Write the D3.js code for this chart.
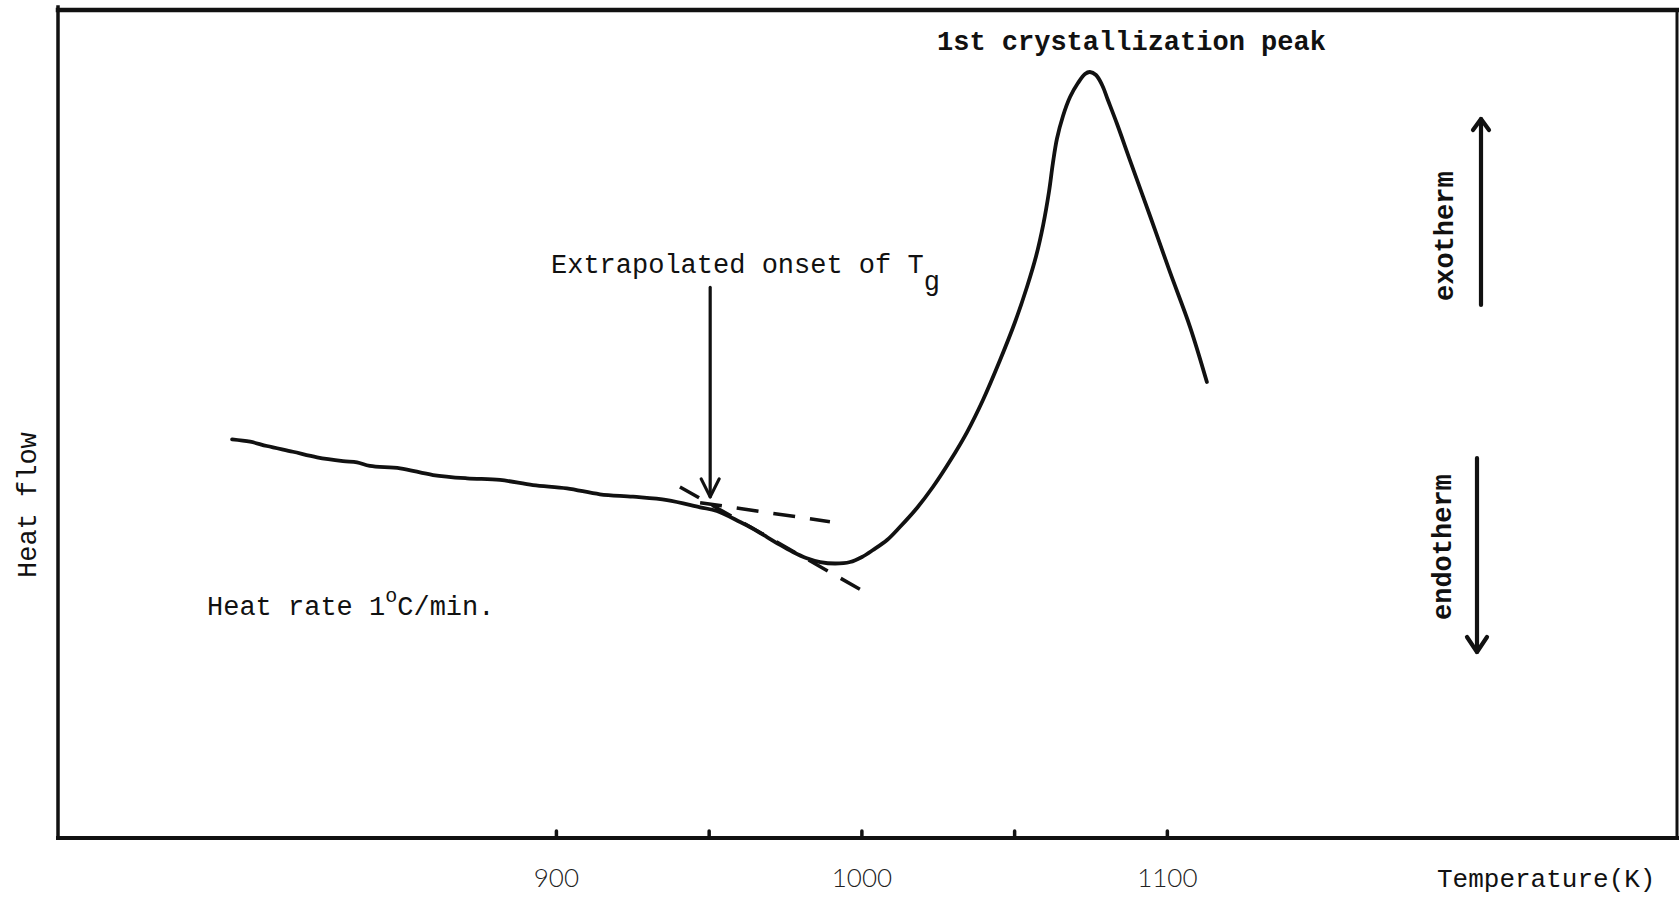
<!DOCTYPE html>
<html><head><meta charset="utf-8">
<script src="https://cdn.jsdelivr.net/npm/d3@7"></script>
<style>
html,body{margin:0;padding:0;background:#fff;}
svg{display:block;}
.mono{font-family:"Liberation Mono","Courier New",monospace;fill:#111;}
.tick text{font-family:Lato,"Open Sans",sans-serif;font-weight:300;}
</style></head><body>
<svg id="chart" width="1679" height="898"></svg>
<script>
// DSC heating trace: temperature (K) against heat flow (arbitrary units)
const temperature = [
  794.0, 799.9, 805.4, 813.9, 821.8, 830.3, 834.9, 839.1, 849.0, 859.8,
  870.9, 881.7, 892.5, 903.6, 914.4, 925.2, 936.4, 947.2, 952.7, 960.3,
  963.5, 969.1, 973.4, 977.6, 981.9, 986.5, 991.4, 996.3, 1000.2, 1003.8,
  1008.4, 1012.6, 1018.2, 1023.4, 1029.0, 1034.6, 1039.8, 1045.4, 1050.3, 1054.2,
  1057.2, 1059.5, 1061.4, 1062.7, 1064.0, 1066.0, 1068.3, 1070.9, 1073.2, 1074.8,
  1076.8, 1078.8, 1080.7, 1083.7, 1087.9, 1094.5, 1101.0, 1107.6, 1113.1
];
const heatFlow = [
  48.15, 47.86, 47.34, 46.65, 45.98, 45.53, 45.37, 44.93, 44.65, 43.84,
  43.44, 43.24, 42.63, 42.23, 41.51, 41.22, 40.82, 39.94, 39.49, 38.16,
  37.56, 36.35, 35.39, 34.54, 33.82, 33.33, 33.15, 33.33, 33.94, 34.78,
  35.99, 37.56, 39.86, 42.39, 45.53, 49.03, 52.90, 57.73, 62.32, 66.55,
  70.29, 74.03, 78.02, 81.52, 84.42, 87.20, 89.49, 91.18, 92.27, 92.51,
  92.15, 90.94, 89.13, 86.23, 81.88, 75.12, 68.36, 61.71, 55.07
];
const tickValues = [900, 950, 1000, 1050, 1100];
const tickLabels = ["900", "", "1000", "", "1100"];
// extrapolated baseline and inflection tangent used for the onset construction
const baselineTangent = [[947.2, 40.5], [989.7, 38.2]];
const slopeTangent = [[940.6, 42.4], [1001.6, 29.6]];
const onsetT = 950.5;
const onsetArrowFlow = [66.5, 41.2];

const W = 1679, H = 898;
const plotLeft = 58, plotRight = 1677, plotTop = 10, plotBottom = 838;
const ink = "#111";

const svg = d3.select("#chart");
svg.append("rect").attr("width", W).attr("height", H).attr("fill", "#fff");

const x = d3.scaleLinear().domain([737, 1267]).range([plotLeft, plotRight]);
const y = d3.scaleLinear().domain([0, 100]).range([plotBottom, plotTop]);

// frame
const frame = svg.append("g").attr("stroke", ink).attr("stroke-linecap", "square");
frame.append("line").attr("x1", plotLeft).attr("y1", plotTop - 3).attr("x2", plotLeft).attr("y2", plotBottom).attr("stroke-width", 3.5);
frame.append("line").attr("x1", plotLeft).attr("y1", plotTop).attr("x2", W).attr("y2", plotTop).attr("stroke-width", 4.5);
frame.append("line").attr("x1", plotRight).attr("y1", plotTop).attr("x2", plotRight).attr("y2", plotBottom).attr("stroke-width", 3);

// temperature axis with short upward ticks
const axis = d3.axisBottom(x)
  .tickValues(tickValues)
  .tickSize(-7)
  .tickFormat((d, i) => tickLabels[i]);
const gx = svg.append("g").attr("transform", `translate(0,${plotBottom})`).call(axis);
gx.select(".domain").remove();
gx.append("line").attr("x1", plotLeft - 2).attr("x2", W).attr("y1", 0).attr("y2", 0)
  .attr("stroke", ink).attr("stroke-width", 4);
gx.selectAll(".tick line").attr("stroke", ink).attr("stroke-width", 3.5).attr("stroke-linecap", "round");
gx.selectAll(".tick text").attr("y", 49).attr("dy", 0)
  .attr("font-size", 26).attr("fill", "#222");

// heat flow trace
const pts = temperature.map((t, i) => [t, heatFlow[i]]);
const line = d3.line().x(d => x(d[0])).y(d => y(d[1])).curve(d3.curveCatmullRom.alpha(0.5));
svg.append("path").datum(pts).attr("d", line)
  .attr("fill", "none").attr("stroke", ink).attr("stroke-width", 3.8)
  .attr("stroke-linejoin", "round").attr("stroke-linecap", "round");

// onset construction lines
const straight = d3.line().x(d => x(d[0])).y(d => y(d[1]));
[baselineTangent, slopeTangent].forEach(seg => {
  svg.append("path").datum(seg).attr("d", straight)
    .attr("fill", "none").attr("stroke", ink).attr("stroke-width", 3.5)
    .attr("stroke-dasharray", "22 15");
});

// arrow helper: shaft plus open head
function arrow(x1, y1, x2, y2, headLen, headHalf, width) {
  const g = svg.append("g").attr("stroke", ink).attr("fill", "none")
    .attr("stroke-width", width).attr("stroke-linecap", "round").attr("stroke-linejoin", "round");
  g.append("line").attr("x1", x1).attr("y1", y1).attr("x2", x2).attr("y2", y2);
  const dir = Math.sign(y2 - y1);
  g.append("path").attr("d",
    `M${x2 - headHalf},${y2 - dir * headLen} L${x2},${y2} L${x2 + headHalf},${y2 - dir * headLen}`);
}

// Tg onset arrow
arrow(x(onsetT), y(onsetArrowFlow[0]), x(onsetT), y(onsetArrowFlow[1]), 18, 9, 3.2);
// exotherm / endotherm direction arrows
arrow(1481, 305, 1481, 119, 11, 8, 4.2);
arrow(1477, 458, 1477, 652, 15, 10, 4.2);

// labels
const fs = 27;
svg.append("text").attr("class", "mono").attr("x", 937).attr("y", 50)
  .attr("font-size", fs).attr("font-weight", "bold").text("1st crystallization peak");

const tg = svg.append("text").attr("class", "mono").attr("x", 551).attr("y", 273).attr("font-size", fs);
tg.append("tspan").text("Extrapolated onset of T");
tg.append("tspan").attr("dy", 17).text("g");

const hr = svg.append("text").attr("class", "mono").attr("x", 207).attr("y", 615).attr("font-size", fs);
hr.append("tspan").text("Heat rate 1");
hr.append("tspan").attr("dy", -13).attr("font-size", 20).text("o");
hr.append("tspan").attr("dy", 13).text("C/min.");

svg.append("text").attr("class", "mono").attr("font-size", fs)
  .attr("transform", "translate(36,578) rotate(-90)").attr("fill", "#222").text("Heat flow");
svg.append("text").attr("class", "mono").attr("font-size", fs).attr("font-weight", "bold")
  .attr("transform", "translate(1453,301) rotate(-90)").text("exotherm");
svg.append("text").attr("class", "mono").attr("font-size", fs).attr("font-weight", "bold")
  .attr("transform", "translate(1451,620) rotate(-90)").text("endotherm");

svg.append("text").attr("class", "mono").attr("x", 1437).attr("y", 887)
  .attr("font-size", 26).text("Temperature(K)");
</script>
</body></html>
